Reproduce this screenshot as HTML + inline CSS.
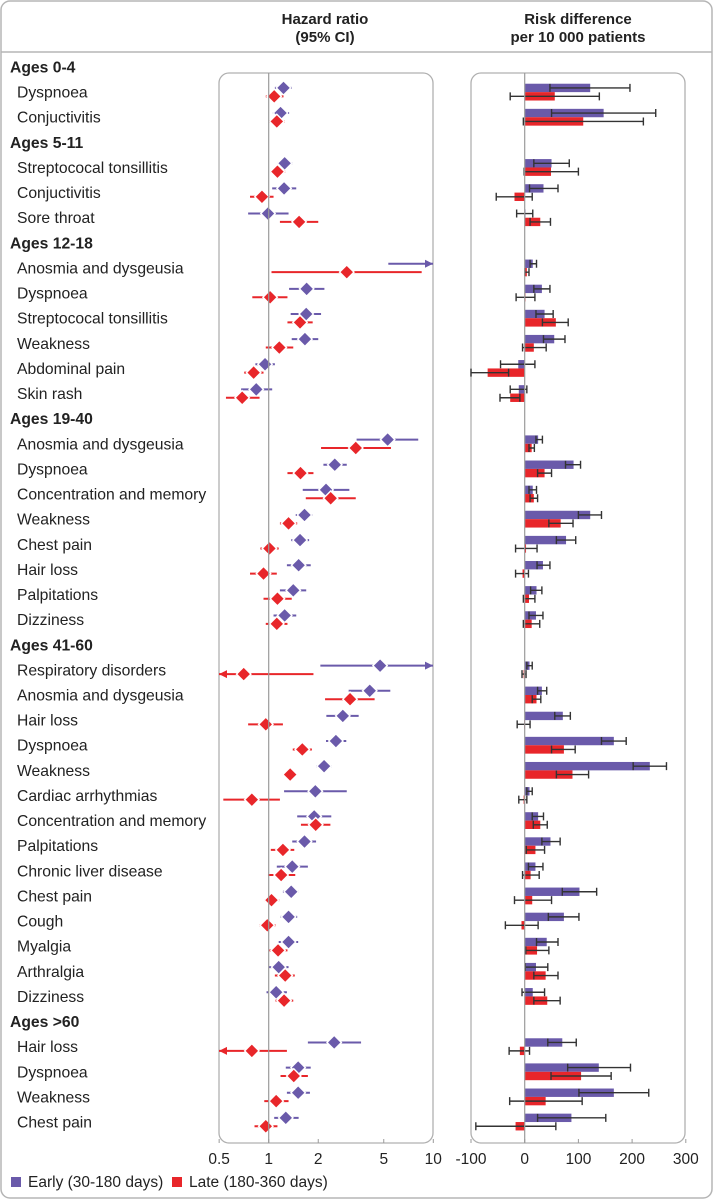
<!DOCTYPE html>
<html><head><meta charset="utf-8"><style>
html,body{margin:0;padding:0;background:#fff;}
svg{display:block;font-family:"Liberation Sans",sans-serif;}
</style></head><body>
<svg id="chart" width="713" height="1200" viewBox="0 0 713 1200">
<rect x="1" y="1" width="711" height="1197" rx="9" fill="#fff" stroke="#b5b5b5" stroke-width="1.5"/>
<line x1="1" y1="52" x2="712" y2="52" stroke="#b5b5b5" stroke-width="1.5"/>
<text x="325" y="24" text-anchor="middle" font-size="15" font-weight="bold" fill="#222">Hazard ratio</text>
<text x="325" y="42" text-anchor="middle" font-size="15" font-weight="bold" fill="#222">(95% CI)</text>
<text x="578" y="24" text-anchor="middle" font-size="15" font-weight="bold" fill="#222">Risk difference</text>
<text x="578" y="42" text-anchor="middle" font-size="15" font-weight="bold" fill="#222">per 10 000 patients</text>
<rect x="219" y="73" width="214" height="1070" rx="10" fill="none" stroke="#b0b0b0" stroke-width="1.3"/>
<rect x="471" y="73" width="214" height="1070" rx="10" fill="none" stroke="#b0b0b0" stroke-width="1.3"/>
<g id="labels"></g><g id="hr"></g><g id="rd"></g><g id="axes"></g>
<rect x="11" y="1177" width="10" height="10" fill="#6a5aaa"/>
<text x="28" y="1187" font-size="15.5" fill="#222">Early (30-180 days)</text>
<rect x="172" y="1177" width="10" height="10" fill="#e8262a"/>
<text x="189" y="1187" font-size="15.5" fill="#222">Late (180-360 days)</text>
</svg>
<script>
const rowLabels=["Ages 0-4","Dyspnoea","Conjuctivitis","Ages 5-11","Streptococal tonsillitis","Conjuctivitis","Sore throat","Ages 12-18","Anosmia and dysgeusia","Dyspnoea","Streptococal tonsillitis","Weakness","Abdominal pain","Skin rash","Ages 19-40","Anosmia and dysgeusia","Dyspnoea","Concentration and memory","Weakness","Chest pain","Hair loss","Palpitations","Dizziness","Ages 41-60","Respiratory disorders","Anosmia and dysgeusia","Hair loss","Dyspnoea","Weakness","Cardiac arrhythmias","Concentration and memory","Palpitations","Chronic liver disease","Chest pain","Cough","Myalgia","Arthralgia","Dizziness","Ages >60","Hair loss","Dyspnoea","Weakness","Chest pain"];
const isHeader=[1,0,0,1,0,0,0,1,0,0,0,0,0,0,1,0,0,0,0,0,0,0,0,1,0,0,0,0,0,0,0,0,0,0,0,0,0,0,1,0,0,0,0];
// Hazard ratios (null = header row). Early
const hrEarly=[null,1.23,1.18,null,1.25,1.24,0.99,null,null,1.70,1.69,1.66,0.95,0.84,null,5.28,2.52,2.23,1.65,1.55,1.52,1.41,1.25,null,4.75,4.11,2.82,2.56,2.17,1.92,1.89,1.65,1.39,1.37,1.32,1.32,1.15,1.11,null,2.50,1.51,1.51,1.27];
const hrEarlyLo=[null,1.09,1.06,null,1.13,1.05,0.75,null,5.33,1.33,1.36,1.38,0.83,0.68,null,3.42,2.15,1.61,1.46,1.37,1.29,1.17,1.07,null,2.06,3.06,2.24,2.23,1.95,1.24,1.49,1.39,1.12,1.22,1.18,1.15,1.00,0.97,null,1.73,1.27,1.29,1.08];
const hrEarlyHi=[null,1.38,1.33,null,1.39,1.47,1.32,null,20,2.18,2.08,2.00,1.09,1.05,null,8.1,2.98,3.09,1.84,1.76,1.80,1.69,1.47,null,20,5.48,3.52,2.96,2.41,2.98,2.40,1.94,1.73,1.52,1.49,1.51,1.32,1.29,null,3.64,1.80,1.78,1.52];
const hrLate=[null,1.08,1.12,null,1.13,0.91,1.53,null,2.98,1.02,1.55,1.16,0.81,0.69,null,3.38,1.56,2.38,1.32,1.01,0.93,1.13,1.12,null,0.705,3.12,0.96,1.60,1.35,0.79,1.93,1.22,1.19,1.04,0.98,1.14,1.26,1.24,null,0.79,1.42,1.11,0.96];
const hrLateLo=[null,0.96,1.00,null,1.02,0.77,1.17,null,1.04,0.795,1.30,0.96,0.71,0.55,null,2.08,1.30,1.68,1.17,0.89,0.77,0.93,0.96,null,0.2,2.20,0.75,1.40,1.22,0.53,1.57,1.03,0.99,0.94,0.88,1.01,1.09,1.10,null,0.49,1.18,0.94,0.82];
const hrLateHi=[null,1.23,1.25,null,1.26,1.07,2.00,null,8.5,1.30,1.85,1.41,0.93,0.88,null,5.53,1.87,3.38,1.49,1.15,1.12,1.38,1.30,null,1.87,4.4,1.22,1.83,1.49,1.17,2.37,1.43,1.45,1.16,1.10,1.30,1.44,1.41,null,1.29,1.73,1.32,1.13];
// Risk differences per 10 000
const rdEarly=[null,122,147,null,50,35,0,null,15,32,37,55,-12,-11,null,25,91,15,122,77,34,22,21,null,9,32,71,166,233,9,25,48,20,102,73,41,21,15,null,70,138,166,87];
const rdEarlyLo=[null,47,50,null,17,9,-15,null,10,17,21,35,-45,-27,null,21,76,8,100,59,23,11,8,null,4,24,56,143,202,4,14,32,7,70,44,22,1,-5,null,43,80,101,24];
const rdEarlyHi=[null,196,244,null,83,62,15,null,22,47,53,75,19,4,null,33,104,22,143,95,47,32,34,null,14,41,85,189,264,14,35,66,34,134,101,62,43,37,null,96,197,231,151];
const rdLate=[null,56,109,null,49,-19,29,null,4,1,58,17,-69,-27,null,13,37,17,67,2.5,-4,8,13,null,-2,22,-1,73,89,-2,29,20,11,14,-6,23,39,42,null,-9,105,39,-17];
const rdLateLo=[null,-27,-2.5,null,-1,-53,10,null,0,-16,33,-4,-100,-46,null,8,24,10,45,-17,-17,-2.5,-2.5,null,-5,14,-14,50,59,-11,16,3,-4,-19,-36,2,17,17,null,-29,49,-28,-91];
const rdLateHi=[null,139,221,null,100,14,48,null,8,19,81,40,-30,-9,null,18,50,24,90,23,7,19,28,null,2.5,30,10,94,119,4,42,37,27,50,25,45,62,66,null,9,161,107,58];
const hrTicks=[0.5,1,2,5,10];
const rdTicks=[-100,0,100,200,300];

const NS="http://www.w3.org/2000/svg";
const PURPLE="#6a5aaa",RED="#e8262a";
const rowY=i=>67+i*25.12;
const hrX=v=>268.7+Math.log10(v)*164.6;
const rdX=v=>524.7+v*0.537;
const clampHR=v=>Math.max(219,Math.min(433,hrX(v)));
function el(tag,attrs,parent){const e=document.createElementNS(NS,tag);for(const k in attrs)e.setAttribute(k,attrs[k]);parent.appendChild(e);return e;}
const gL=document.getElementById('labels'),gH=document.getElementById('hr'),gR=document.getElementById('rd'),gA=document.getElementById('axes');

let l1=el('line',{x1:hrX(1),y1:73,x2:hrX(1),y2:1143,stroke:'#9a9a9a','stroke-width':1.2},gA);


let l0=el('line',{x1:rdX(0),y1:73,x2:rdX(0),y2:1143,stroke:'#9a9a9a','stroke-width':1.2},gA);


hrTicks.forEach(t=>{
  const x=hrX(t);
  const tk=el('line',{x1:x,y1:1139,x2:x,y2:1143,stroke:'#9a9a9a'},gA);
  
  
  const tx=el('text',{x:x,y:1164,'text-anchor':'middle','font-size':15.5,fill:'#222'},gA);tx.textContent=t;
  
  
});
rdTicks.forEach(t=>{
  const x=rdX(t);
  const tk=el('line',{x1:x,y1:1139,x2:x,y2:1143,stroke:'#9a9a9a'},gA);
  
  
  const tx=el('text',{x:x,y:1164,'text-anchor':'middle','font-size':15.5,fill:'#222'},gA);tx.textContent=t;
  
  
});

function arrowHead(x,y,dir,color,g){
  const a=el('path',{d:`M${x},${y} L${x-dir*8},${y-4} L${x-dir*8},${y+4} Z`,fill:color},g);
  
  
}
function hrMark(i,pt,lo,hi,dy,color,series){
  if(lo==null)return;
  const y=rowY(i)+dy;
  const x1=clampHR(lo),x2=clampHR(hi);
  const ln=el('line',{x1:x1,y1:y,x2:x2,y2:y,stroke:color,'stroke-width':2},gH);
  
  
  if(hrX(hi)>433)arrowHead(433,y,1,color,gH);
  if(hrX(lo)<219)arrowHead(219,y,-1,color,gH);
  if(pt!=null){
    const x=hrX(pt),s=7.2;
    const d=el('path',{d:`M${x},${y-s} L${x+s},${y} L${x},${y+s} L${x-s},${y} Z`,fill:color,stroke:'#fff','stroke-width':1.4},gH);
    
    
  }
}
function rdMark(i,v,lo,hi,top,color,series){
  if(v==null)return;
  const y0=rowY(i)+top, h=8.4, yc=y0+h/2;
  const xa=rdX(Math.min(0,v)),xb=rdX(Math.max(0,v));
  const b=el('rect',{x:xa,y:y0,width:Math.max(0.8,xb-xa),height:h,fill:color},gR);
  
  
  const p=`M${rdX(lo)},${yc} L${rdX(hi)},${yc} M${rdX(lo)},${yc-4} L${rdX(lo)},${yc+4} M${rdX(hi)},${yc-4} L${rdX(hi)},${yc+4}`;
  const e=el('path',{d:p,stroke:'#333','stroke-width':1.4,fill:'none'},gR);
  
  
}
rowLabels.forEach((lab,i)=>{
  const y=rowY(i);
  const t=el('text',{x:isHeader[i]?10:17,y:y+5.5,'font-size':15.7,fill:'#222','font-weight':isHeader[i]?'bold':'normal'},gL);
  t.textContent=lab;
  
  
  if(isHeader[i])return;
  hrMark(i,hrEarly[i],hrEarlyLo[i],hrEarlyHi[i],-4.2,PURPLE,'early');
  hrMark(i,hrLate[i],hrLateLo[i],hrLateHi[i],4.2,RED,'late');
  rdMark(i,rdEarly[i],rdEarlyLo[i],rdEarlyHi[i],-8.4,PURPLE,'early');
  rdMark(i,rdLate[i],rdLateLo[i],rdLateHi[i],0,RED,'late');
});
</script>
</body></html>
